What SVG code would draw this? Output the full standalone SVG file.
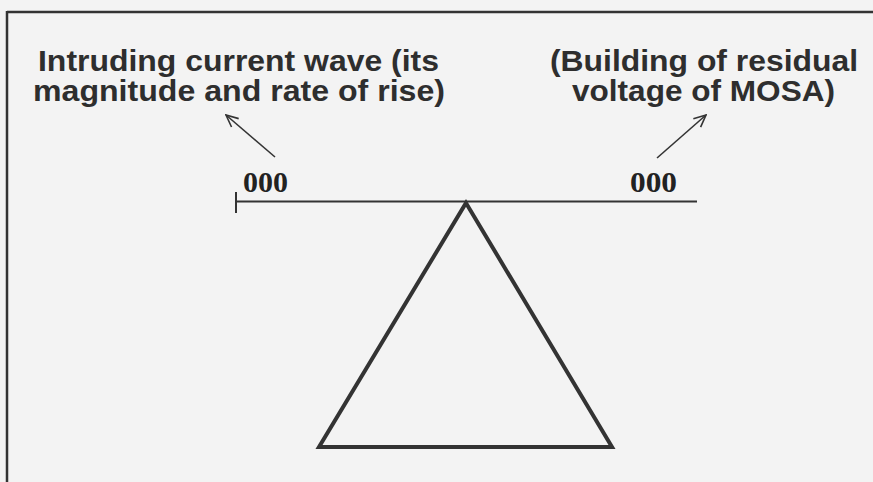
<svg xmlns="http://www.w3.org/2000/svg" width="873" height="482" viewBox="0 0 873 482">
<defs>
<style>
.lbl{font-family:"Liberation Sans",Arial,sans-serif;font-weight:bold;font-size:30px;fill:#2e2e2e}
.num{font-family:"Liberation Serif","Times New Roman",serif;font-weight:bold;font-size:29px;fill:#222}
.ln{stroke:#333;fill:none}
</style>
<marker id="open" viewBox="0 0 14 14" refX="13" refY="7" markerWidth="14" markerHeight="14" markerUnits="userSpaceOnUse" orient="auto">
<path d="M1,1.5 L13,7 L1,12.5" fill="none" stroke="#333" stroke-width="1.6"/>
</marker>
</defs>
<rect width="873" height="482" fill="#f3f3f3"/>
<g id="frame">
<line class="ln" x1="7" y1="12" x2="873" y2="12" stroke-width="2.5"/>
<line class="ln" x1="7" y1="11" x2="7" y2="482" stroke-width="2.5"/>
</g>
<g id="label-left">
<text class="lbl" x="38" y="71" textLength="401" lengthAdjust="spacingAndGlyphs">Intruding current wave (its</text>
<text class="lbl" x="33" y="101" textLength="412" lengthAdjust="spacingAndGlyphs">magnitude and rate of rise)</text>
</g>
<g id="label-right">
<text class="lbl" x="550" y="71" textLength="308" lengthAdjust="spacingAndGlyphs">(Building of residual</text>
<text class="lbl" x="572" y="101" textLength="263" lengthAdjust="spacingAndGlyphs">voltage of MOSA)</text>
</g>
<g id="num-left"><text class="num" x="243" y="192" textLength="45" lengthAdjust="spacingAndGlyphs">000</text></g>
<g id="num-right"><text class="num" x="630" y="192" textLength="47" lengthAdjust="spacingAndGlyphs">000</text></g>
<g id="line">
<line class="ln" x1="236" y1="201.5" x2="697" y2="201.5" stroke-width="2"/>
<line class="ln" x1="236" y1="192" x2="236" y2="213" stroke-width="2"/>
</g>
<g id="triangle">
<polygon class="ln" points="466,203 612,447 319,447" stroke-width="4" stroke="#2a2a2a" stroke-linejoin="miter"/>
</g>
<g id="connectors">
<line class="ln" x1="275" y1="157" x2="226" y2="115" stroke-width="1.6" marker-end="url(#open)"/>
<line class="ln" x1="657" y1="158" x2="706" y2="115" stroke-width="1.6" marker-end="url(#open)"/>
</g>
</svg>
